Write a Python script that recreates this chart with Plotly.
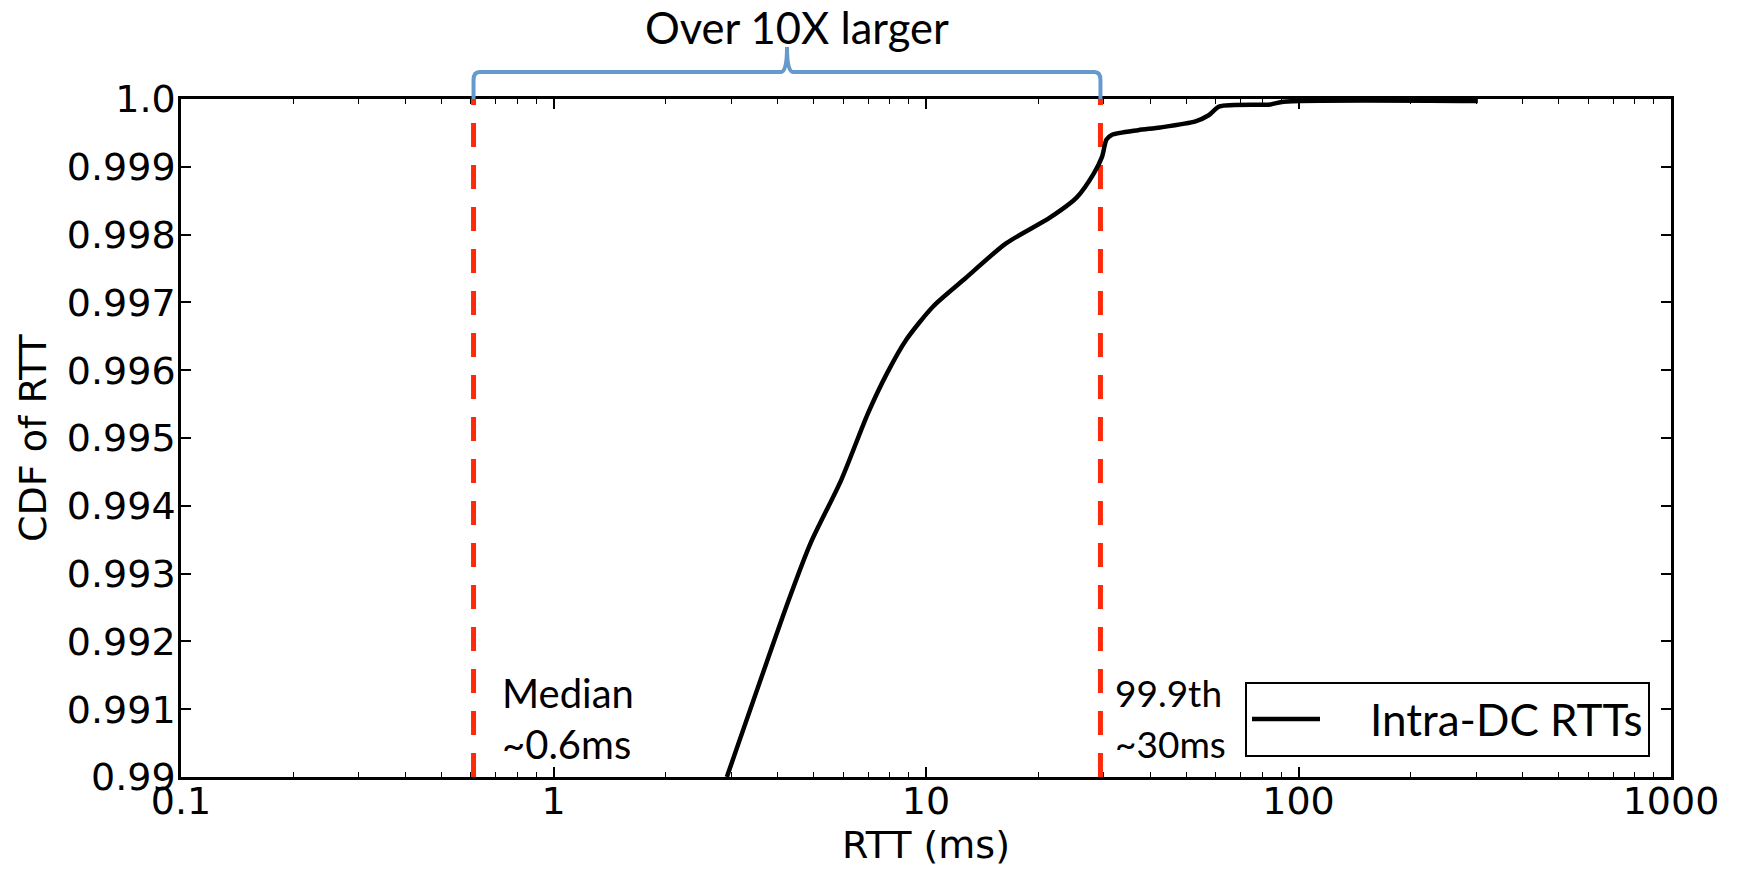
import math
import plotly.graph_objects as go

# ---- data ----
rtt_ms = [2.92, 4.28, 4.90, 5.92, 6.98, 7.85, 8.85, 10.45, 12.6, 16.4, 21.5, 25.4,
          28.2, 29.7, 30.5, 31.5, 37.1, 42.5, 52.9, 57.4, 61.4, 84.1, 91.2, 303]
cdf = [0.99, 0.99261, 0.99345, 0.99438, 0.99536, 0.99595, 0.99645, 0.99694, 0.99733,
       0.99787, 0.99825, 0.99855, 0.99890, 0.99915, 0.99940, 0.99947, 0.99954, 0.99958,
       0.99967, 0.99976, 0.99989, 0.99992, 0.99996, 0.99997]
median_ms = 0.61
p999_ms = 29.4
series_name = "Intra-DC RTTs"

x_tickvals = [0.1, 1, 10, 100, 1000]
x_ticktext = ["0.1", "1", "10", "100", "1000"]
x_minor = [m * d for d in [0.1, 1, 10, 100] for m in range(2, 10)]
y_tickvals = [0.99, 0.991, 0.992, 0.993, 0.994, 0.995, 0.996, 0.997, 0.998, 0.999, 1.0]
y_ticktext = ["0.99", "0.991", "0.992", "0.993", "0.994", "0.995", "0.996", "0.997",
              "0.998", "0.999", "1.0"]

RED = "#ff2a0a"
BLUE = "#6699cc"
TICKFONT = "DejaVu Sans"
ANNFONT = "Lato"

fig = go.Figure()

for v in [median_ms, p999_ms]:
    fig.add_trace(go.Scatter(x=[v, v], y=[0.99, 1.0], mode="lines",
                             line=dict(color=RED, width=5, dash="24px,18px"),
                             showlegend=False, hoverinfo="skip", cliponaxis=False))

fig.add_trace(go.Scatter(x=rtt_ms, y=cdf, mode="lines",
                         name="\u00a0\u00a0\u00a0\u00a0" + series_name,
                         line=dict(color="black", width=4.5, shape="spline", smoothing=0.7)))

# brace above the plot spanning median -> 99.9th
k = 10 ** (6 / 372.5)
xm = math.sqrt(median_ms * p999_ms)
h, r_top, peak = 1.0398, 1.028, 1.0767
path = (f"M{median_ms},1.0 L{median_ms},{r_top} Q{median_ms},{h} {median_ms*k},{h} "
        f"L{xm/k},{h} Q{xm},{h} {xm},{peak} Q{xm},{h} {xm*k},{h} "
        f"L{p999_ms/k},{h} Q{p999_ms},{h} {p999_ms},{r_top} L{p999_ms},1.0")
fig.add_shape(type="path", path=path, xref="x", yref="paper",
              line=dict(color=BLUE, width=4), layer="above")

fig.add_annotation(x=math.log10(xm), y=1.1055, xref="x", yref="paper", xshift=10,
                   text="Over 10X larger", showarrow=False,
                   font=dict(family=ANNFONT, size=43.5, color="black"),
                   xanchor="center", yanchor="middle")
for v, l1, l2, sz, xs in [(median_ms, "Median", "~0.6ms", 40, 26),
                          (p999_ms, "99.9th", "~30ms", 37, 13)]:
    f = dict(family=ANNFONT, size=sz, color="black")
    fig.add_annotation(x=math.log10(v), y=0.124, xref="x", yref="paper", xshift=xs,
                       text=l1, showarrow=False, font=f,
                       xanchor="left", yanchor="middle")
    fig.add_annotation(x=math.log10(v), y=0.049, xref="x", yref="paper", xshift=xs,
                       text=l2, showarrow=False, font=f,
                       xanchor="left", yanchor="middle")

# y-axis title
fig.add_annotation(x=-0.0993, y=0.5, xref="paper", yref="paper", text="CDF of RTT",
                   textangle=-90, showarrow=False, xanchor="center", yanchor="middle",
                   font=dict(family=TICKFONT, size=38, color="black"))

fig.update_xaxes(type="log", range=[-1, 3], tickmode="array",
                 tickvals=x_tickvals, ticktext=x_ticktext,
                 ticks="inside", ticklen=10, tickwidth=1.5, tickcolor="black",
                 minor=dict(tickmode="array", tickvals=x_minor, ticks="inside",
                            ticklen=5, tickwidth=1.2, tickcolor="black", showgrid=False),
                 showline=True, linecolor="black", linewidth=2.5, mirror="ticks",
                 showgrid=False, zeroline=False,
                 tickfont=dict(family=TICKFONT, size=38, color="black"),
                 ticklabelstandoff=-11,
                 title=dict(text="RTT (ms)", font=dict(family=TICKFONT, size=38, color="black"),
                            standoff=0))
fig.update_yaxes(range=[0.99, 1.0], tickmode="array", tickvals=y_tickvals,
                 ticktext=y_ticktext, ticks="inside", ticklen=10, tickwidth=1.5,
                 tickcolor="black", showline=True, linecolor="black", linewidth=2.5,
                 mirror="ticks", showgrid=False, zeroline=False,
                 tickfont=dict(family=TICKFONT, size=38, color="black"),
                 ticklabelstandoff=-5)

fig.update_layout(
    width=1741, height=870,
    margin=dict(l=181, r=70, t=99, b=93, autoexpand=False),
    paper_bgcolor="white", plot_bgcolor="white",
    showlegend=True,
    legend=dict(x=0.9859, y=0.0295, xanchor="right", yanchor="bottom",
                bgcolor="white", bordercolor="black", borderwidth=2,
                font=dict(family=ANNFONT, size=44, color="black"),
                itemwidth=68),
)

fig.write_html("out.html")
